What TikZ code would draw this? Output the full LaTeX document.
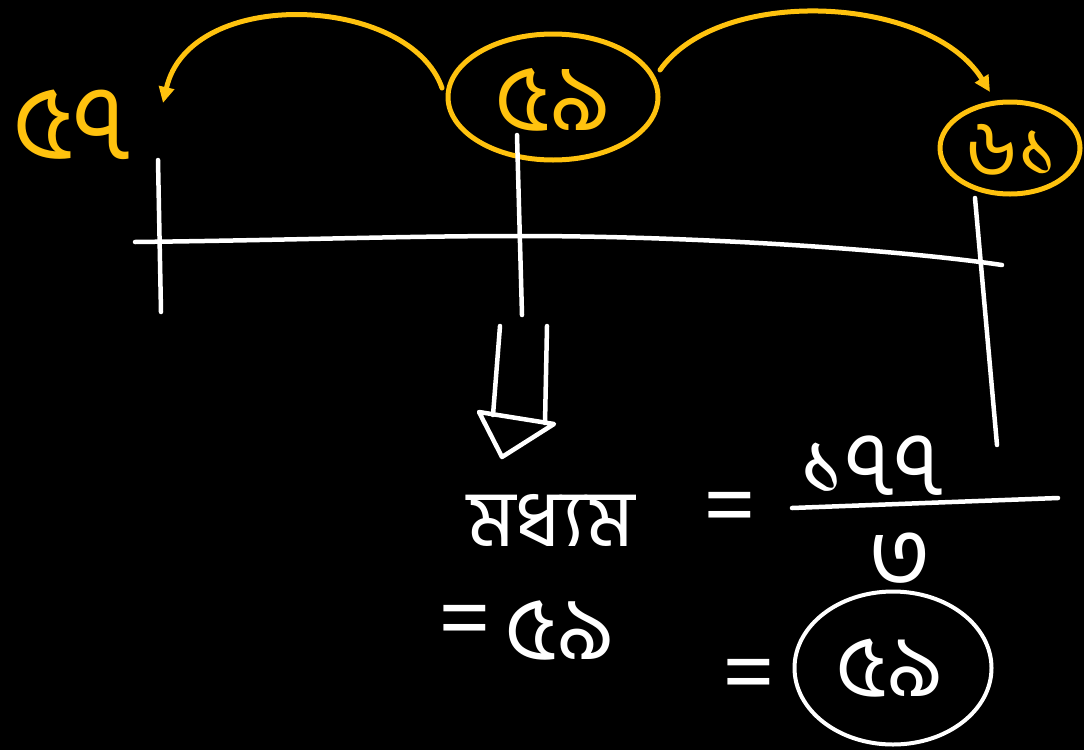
\documentclass[tikz,border=0pt]{standalone}
\usepackage{fontspec}
\newfontfamily\bn[Script=Bengali]{Hind Siliguri}
\usetikzlibrary{shapes.geometric,arrows.meta}
\definecolor{amber}{HTML}{FFC20E}
\tikzset{
  orangetxt/.style={text=amber,font=\bn\fontsize{#1}{#1}\selectfont,inner sep=0pt},
  orangetxt/.default=95,
  whitetxt/.style={text=white,font=\bn\fontsize{#1}{#1}\selectfont,inner sep=0pt},
  whitetxt/.default=90,
  ring/.style={ellipse,draw=amber,line width=5pt,inner sep=0pt},
  wring/.style={ellipse,draw=white,line width=4pt,inner sep=0pt},
  wline/.style={draw=white,line width=4.5pt,line cap=round},
  oline/.style={draw=amber,line width=5pt,line cap=round},
}
\begin{document}
\begin{tikzpicture}[x=1pt,y=-1pt]
\fill[black] (0,0) rectangle (1084,750);
\useasboundingbox (0,0) rectangle (1084,750);
% top numbers
\node[orangetxt=105] (n57) at (72,125) {৫৭};
\node[ring,minimum width=210pt,minimum height=126pt] (c59) at (553,97) {};
\node[orangetxt=95] (n59) at (553,100) {৫৯};
\node[ring,minimum width=140pt,minimum height=92pt] (c61) at (1010,148) {};
\node[orangetxt=80] (n61) at (1012,150) {৬১};
% arcs
\coordinate (la) at (442,88);
\coordinate (lb) at (163,103);
\coordinate (ra) at (660,70);
\coordinate (rb) at (990,92);
\draw[oline,-{Triangle[length=16pt,width=15pt]}] (la) .. controls (410,-5) and (190,-15) .. (lb);
\draw[oline,-{Triangle[length=16pt,width=15pt]}] (ra) .. controls (720,-15) and (930,-5) .. (rb);
% number line
\coordinate (L0) at (135,242);
\coordinate (L1) at (520,236);
\coordinate (L2) at (1002,265);
\draw[wline] (L0) .. controls (300,240) and (400,236) .. (L1) .. controls (700,236) and (900,250) .. (L2);
% ticks
\coordinate (t1a) at (158,160); \coordinate (t1b) at (161,312);
\coordinate (t2a) at (517,135); \coordinate (t2b) at (522,315);
\coordinate (t3a) at (975,198); \coordinate (t3b) at (997,445);
\draw[wline] (t1a) -- (t1b);
\draw[wline] (t2a) -- (t2b);
\draw[wline] (t3a) -- (t3b);
% double down arrow
\coordinate (d1a) at (500,326); \coordinate (d1b) at (493,415);
\coordinate (d2a) at (547,326); \coordinate (d2b) at (545,423);
\draw[wline] (d1a) -- (d1b);
\draw[wline] (d2a) -- (d2b);
\draw[wline,line join=round] (479,412) -- (554,424) -- (502,457) -- cycle;
% median
\node[whitetxt=80] (med) at (551,520) {মধ্যম};
\node[whitetxt=95] (eq1) at (730,515) {=};
\node[whitetxt=90] (num) at (872,466) {১৭৭};
\coordinate (f0) at (792,508); \coordinate (f1) at (1058,498);
\draw[wline] (f0) -- (f1);
\node[whitetxt=95] (den) at (900,561) {৩};
\node[whitetxt=95] (eq2) at (465,628) {=};
\node[whitetxt=90] (r1) at (560,630) {৫৯};
\node[whitetxt=95] (eq3) at (749,682) {=};
\node[wring,minimum width=197pt,minimum height=153pt] (cres) at (893,668) {};
\node[whitetxt=88] (r2) at (890,668) {৫৯};
\end{tikzpicture}
\end{document}
